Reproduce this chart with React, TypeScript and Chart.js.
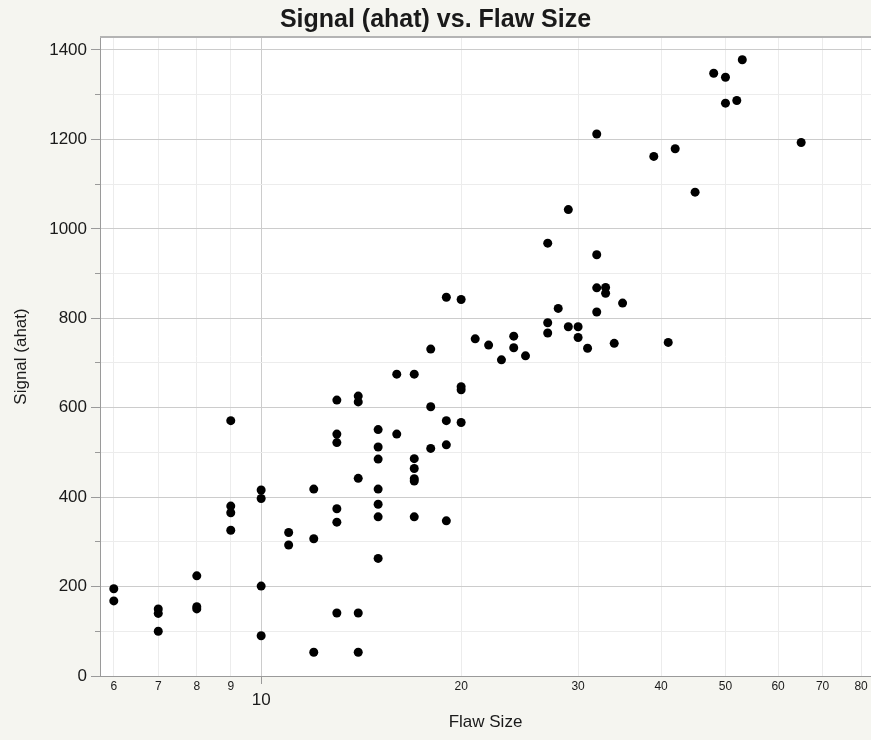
import React, { useEffect, useRef } from 'react';
import { Chart, registerables } from 'chart.js';

Chart.register(...registerables);

const TITLE = 'Signal (ahat) vs. Flaw Size';
const X_LABEL = 'Flaw Size';
const Y_LABEL = 'Signal (ahat)';

// paired observations: flaw size (x) and signal ahat (y)
const flawSize = [
  6, 6,
  7, 7, 7,
  8, 8, 8,
  9, 9, 9, 9,
  10, 10, 10, 10,
  11, 11,
  12, 12, 12,
  13, 13, 13, 13, 13, 13,
  14, 14, 14, 14, 14,
  15, 15, 15, 15, 15, 15, 15,
  16, 16,
  17, 17, 17, 17, 17, 17,
  18, 18, 18,
  19, 19, 19, 19,
  20, 20, 20, 20,
  21, 22, 23,
  24, 24,
  25,
  27, 27, 27,
  28,
  29, 29,
  30, 30,
  31,
  32, 32, 32, 32,
  33, 33,
  34, 35, 39, 41, 42, 45, 48,
  50, 50,
  52, 53, 65,
];
const signal = [
  195, 168,
  150, 140, 100,
  224, 155, 150,
  571, 380, 365, 326,
  416, 397, 201, 90,
  321, 293,
  418, 307, 53,
  617, 541, 522, 374, 344, 141,
  626, 613, 442, 141, 53,
  551, 512, 485, 418, 384, 356, 263,
  675, 541,
  675, 486, 464, 441, 436, 356,
  731, 602, 509,
  847, 571, 517, 347,
  842, 647, 640, 567,
  754, 740, 707,
  760, 734,
  716,
  968, 790, 767,
  822,
  1043, 781,
  781, 757,
  733,
  1212, 942, 868, 814,
  869, 856,
  744, 834, 1162, 746, 1179, 1082, 1348,
  1339, 1281,
  1287, 1378, 1193,
];

const xTicks = [6, 7, 8, 9, 10, 20, 30, 40, 50, 60, 70, 80];
const xMajorTicks = [10];
const yTicks = [0, 100, 200, 300, 400, 500, 600, 700, 800, 900, 1000, 1100, 1200, 1300, 1400];
const yLabelStep = 200;

const X_MIN = 5.72;
const X_MAX = 82.8;
const Y_MIN = 0;
const Y_MAX = 1429;

const FONT = '"Liberation Sans", Arial, Helvetica, sans-serif';
const PAGE_BG = '#f5f5f0';
const GRID_MAJOR = '#cccccc';
const GRID_MINOR = '#ececec';
const AXIS = '#9a9a9a';
const TEXT = '#1a1a1a';

const plotFrame = {
  id: 'plotFrame',
  beforeDraw(chart: any) {
    const { ctx, chartArea: a } = chart;
    ctx.save();
    ctx.fillStyle = '#ffffff';
    ctx.fillRect(a.left, a.top, a.right - a.left, a.bottom - a.top);
    ctx.restore();
  },
  beforeDatasetsDraw(chart: any) {
    const { ctx, chartArea: a } = chart;
    ctx.save();
    ctx.strokeStyle = '#b4b4b4';
    ctx.lineWidth = 2;
    ctx.beginPath();
    ctx.moveTo(a.left, a.top);
    ctx.lineTo(a.right, a.top);
    ctx.stroke();
    ctx.restore();
  },
};

export default function App() {
  const canvasRef = useRef<HTMLCanvasElement | null>(null);

  useEffect(() => {
    const canvas = canvasRef.current;
    if (!canvas) return;
    const points = flawSize.map((x, i) => ({ x, y: signal[i] }));
    const isXMajor = (ctx: any) => !!ctx.tick && xMajorTicks.includes(ctx.tick.value);
    const isYMajor = (ctx: any) => !!ctx.tick && ctx.tick.value % yLabelStep === 0;

    const chart = new Chart(canvas, {
      type: 'scatter',
      data: {
        datasets: [
          {
            label: Y_LABEL,
            data: points,
            pointRadius: 4.5,
            pointHoverRadius: 4.5,
            pointBackgroundColor: '#000000',
            pointBorderWidth: 0,
            pointBorderColor: '#000000',
          },
        ],
      },
      options: {
        animation: false,
        responsive: false,
        events: [],
        layout: { padding: 0, autoPadding: false },
        plugins: {
          legend: { display: false },
          tooltip: { enabled: false },
          title: {
            display: true,
            text: TITLE,
            color: TEXT,
            font: { family: FONT, size: 25, weight: 'bold', lineHeight: 1.2 },
            padding: { top: 5, bottom: 2 },
          },
        },
        scales: {
          x: {
            type: 'logarithmic',
            min: X_MIN,
            max: X_MAX,
            afterBuildTicks: (s: any) => {
              s.ticks = xTicks.map((v) => ({ value: v, major: xMajorTicks.includes(v) }));
            },
            afterFit: (s: any) => {
              s.height = 64;
              s.paddingLeft = 0;
              s.paddingRight = 0;
            },
            border: { color: AXIS, width: 1 },
            grid: {
              color: (ctx: any) => (isXMajor(ctx) ? GRID_MAJOR : GRID_MINOR),
              lineWidth: 1,
              tickLength: 8,
              tickColor: (ctx: any) => (isXMajor(ctx) ? AXIS : 'rgba(0,0,0,0)'),
            },
            ticks: {
              autoSkip: false,
              maxRotation: 0,
              minRotation: 0,
              padding: -3,
              color: TEXT,
              callback: (v: any) => String(v),
              font: (ctx: any) =>
                isXMajor(ctx)
                  ? { family: FONT, size: 17, lineHeight: 2.24 }
                  : { family: FONT, size: 12, lineHeight: 1 },
            },
            title: {
              display: true,
              text: X_LABEL,
              color: TEXT,
              font: { family: FONT, size: 17, lineHeight: 1.2 },
              padding: { top: 0, bottom: 7 },
            },
          },
          y: {
            type: 'linear',
            min: Y_MIN,
            max: Y_MAX,
            afterBuildTicks: (s: any) => {
              s.ticks = yTicks.map((v) => ({ value: v }));
            },
            afterFit: (s: any) => {
              s.width = 100;
              s.paddingTop = 0;
              s.paddingBottom = 0;
            },
            border: { color: AXIS, width: 1 },
            grid: {
              color: (ctx: any) => (isYMajor(ctx) ? GRID_MAJOR : GRID_MINOR),
              lineWidth: 1,
              tickLength: 9,
              tickColor: AXIS,
              tickBorderDash: (ctx: any) => (isYMajor(ctx) ? [] : [0, 4, 100]),
            },
            ticks: {
              autoSkip: false,
              padding: 4,
              color: TEXT,
              font: { family: FONT, size: 17 },
              callback: (v: any) => (Number(v) % yLabelStep === 0 ? String(v) : ''),
            },
            title: {
              display: true,
              text: Y_LABEL,
              color: TEXT,
              font: { family: FONT, size: 17, lineHeight: 1.2 },
              padding: { top: 11, bottom: 0 },
            },
          },
        },
      },
      plugins: [plotFrame],
    } as any);

    return () => chart.destroy();
  }, []);

  return (
    <div
      style={{
        position: 'fixed',
        left: 0,
        top: 0,
        width: 871,
        height: 740,
        background: PAGE_BG,
      }}
    >
      <canvas ref={canvasRef} width={871} height={740} style={{ display: 'block' }} />
    </div>
  );
}
